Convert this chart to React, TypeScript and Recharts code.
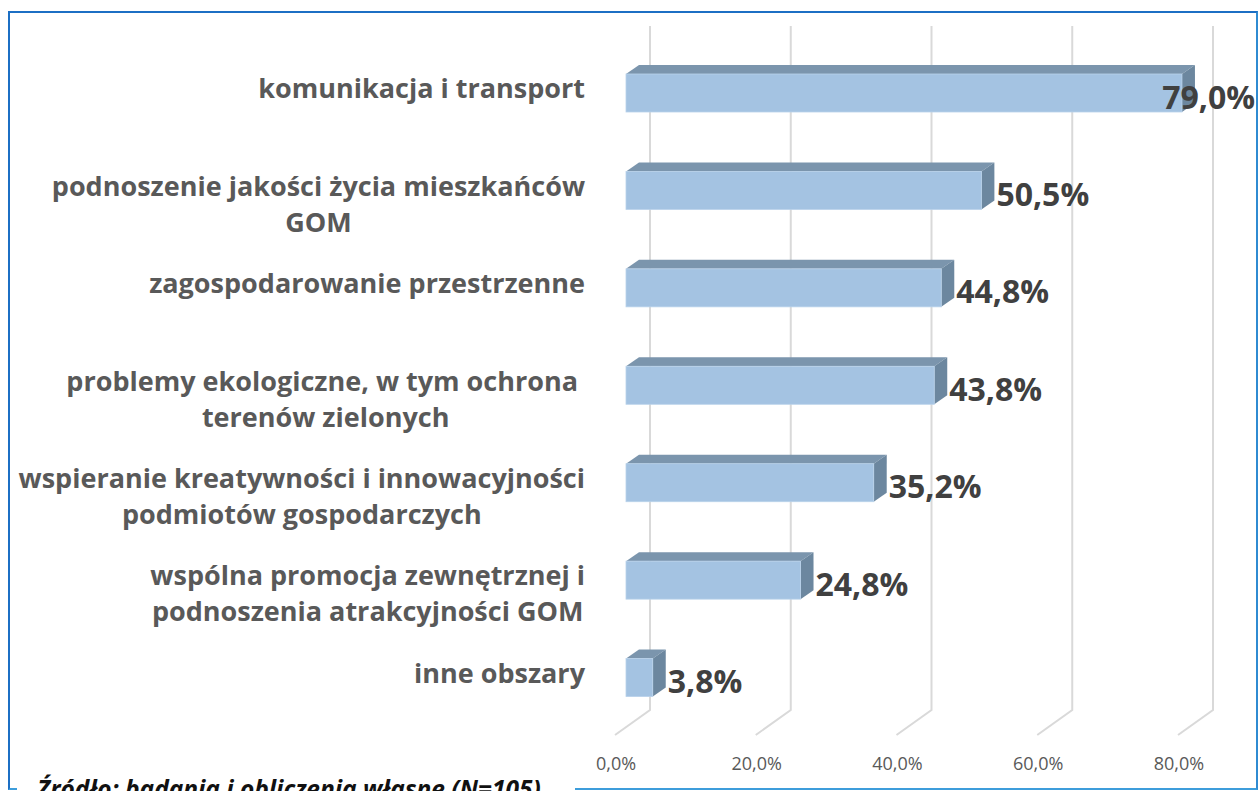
import React from "react";
import { BarChart, Bar, XAxis, YAxis, CartesianGrid, LabelList } from "recharts";

const categories: string[][] = [
  ["komunikacja i transport"],
  ["podnoszenie jakości życia mieszkańców", "GOM"],
  ["zagospodarowanie przestrzenne"],
  ["problemy ekologiczne, w tym ochrona\u00a0", "terenów zielonych"],
  ["wspieranie kreatywności i innowacyjności", "podmiotów gospodarczych"],
  ["wspólna promocja zewnętrznej i", "podnoszenia atrakcyjności GOM"],
  ["inne obszary"],
];
const values: number[] = [79.0, 50.5, 44.8, 43.8, 35.2, 24.8, 3.8];
const xTicks: number[] = [0, 20, 40, 60, 80];
const sourceText = "Źródło: badania i obliczenia własne (N=105)";

const data = categories.map((lines, i) => ({ name: lines.join("\n"), value: values[i] }));

const FONT = "'Open Sans', 'DejaVu Sans', sans-serif";
const DX = 13;
const DY = 9;
const CHART_W = 1259;
const CHART_H = 791;
const MARGIN = { top: 44, right: 70, bottom: 35, left: 26 };
const YAXIS_W = 600;
const XAXIS_H = 30;
const CAT_FS = 27;

let ctx: CanvasRenderingContext2D | null = null;
function measure(text: string, font: string): number {
  if (typeof document === "undefined") return text.length * 12;
  if (!ctx) ctx = document.createElement("canvas").getContext("2d");
  if (!ctx) return text.length * 12;
  ctx.font = font;
  return ctx.measureText(text).width;
}

const fmt = (v: number) => v.toFixed(1).replace(".", ",") + "%";

const Bar3D = (props: any) => {
  const { x, y, width, height } = props;
  if (width == null || isNaN(width)) return null;
  const top = `${x},${y} ${x + DX},${y - DY} ${x + width + DX},${y - DY} ${x + width},${y}`;
  const side = `${x + width},${y} ${x + width + DX},${y - DY} ${x + width + DX},${y + height - DY} ${x + width},${y + height}`;
  return (
    <g>
      <polygon points={top} fill="#7b95ad" />
      <polygon points={side} fill="#6c879f" />
      <rect x={x} y={y} width={width} height={height} fill="#a4c3e2" stroke="#b9d2ea" strokeWidth={0.8} />
    </g>
  );
};

const ValueLabel = (props: any) => {
  const { x, y, width, height, value } = props;
  const font = `bold 32px ${FONT}`;
  const w = measure(fmt(value), font);
  let tx = x + width + DX + 2;
  let anchor: "start" | "end" = "start";
  const limit = CHART_W - 4;
  if (tx + w > limit) {
    tx = limit;
    anchor = "end";
  }
  return (
    <text x={tx} y={y + height / 2 + 3} textAnchor={anchor} dominantBaseline="central"
      fontFamily={FONT} fontWeight="bold" fontSize={32} fill="#404040">
      {fmt(value)}
    </text>
  );
};

const YTick = (props: any) => {
  const { x, y, payload } = props;
  const lines: string[] = String(payload.value).split("\n");
  const right = x - 41;
  const font = `bold ${CAT_FS}px ${FONT}`;
  const w1 = measure(lines[0], font);
  const center = right - w1 / 2;
  return (
    <g>
      {lines.map((ln, i) => (
        <text key={i} x={i === 0 ? right : center} y={y - 5 + i * 36}
          textAnchor={i === 0 ? "end" : "middle"} dominantBaseline="central"
          fontFamily={FONT} fontWeight="bold" fontSize={CAT_FS} fill="#595959"
          style={{ whiteSpace: "pre" }}>
          {ln}
        </text>
      ))}
    </g>
  );
};

const XTick = (props: any) => {
  const { x, y, payload } = props;
  return (
    <text x={x - 10} y={y + 37} textAnchor="middle" dominantBaseline="central"
      fontFamily={FONT} fontSize={18} fill="#595959">
      {fmt(payload.value)}
    </text>
  );
};

const gridLine = (props: any) => {
  const { x1, y1, y2, key } = props;
  const pts = `${x1 + 24},${y1 - 18} ${x1 + 24},${y2 - 16} ${x1 - 11},${y2 + 9}`;
  return <polyline key={key} points={pts} fill="none" stroke="#d9d9d9" strokeWidth={2} />;
};

export default function App() {
  return (
    <div style={{ position: "fixed", left: 0, top: 0, width: CHART_W, height: CHART_H, overflow: "hidden", background: "#fff" }}>
      <div style={{ position: "absolute", left: 8, top: 11, width: 1246, height: 775,
        borderTop: "2px solid #1c6fc4", borderLeft: "2px solid #1c6fc4",
        borderRight: "2px solid #2f8bd2", borderBottom: "2px solid #3d9ddb" }} />
      <div style={{ position: "absolute", left: 0, top: 0 }}>
        <BarChart width={CHART_W} height={CHART_H} layout="vertical" data={data} margin={MARGIN} barSize={38}>
          <CartesianGrid horizontal={false} vertical={gridLine} />
          <XAxis type="number" domain={[0, 80]} ticks={xTicks} interval={0} axisLine={false} tickLine={false}
            tickSize={0} tickMargin={0} height={XAXIS_H} tick={XTick} />
          <YAxis type="category" dataKey="name" interval={0} axisLine={false} tickLine={false}
            tickSize={0} tickMargin={0} width={YAXIS_W} tick={YTick} />
          <Bar dataKey="value" shape={Bar3D} isAnimationActive={false}>
            <LabelList dataKey="value" content={ValueLabel} />
          </Bar>
        </BarChart>
      </div>
      <div style={{ position: "absolute", left: 17, top: 772, width: 558, height: 30, background: "#fff",
        paddingLeft: 20, boxSizing: "border-box", fontFamily: FONT, fontWeight: "bold", fontStyle: "italic",
        fontSize: 24.5, color: "#111", whiteSpace: "nowrap", lineHeight: "normal" }}>
        {sourceText}
      </div>
    </div>
  );
}
